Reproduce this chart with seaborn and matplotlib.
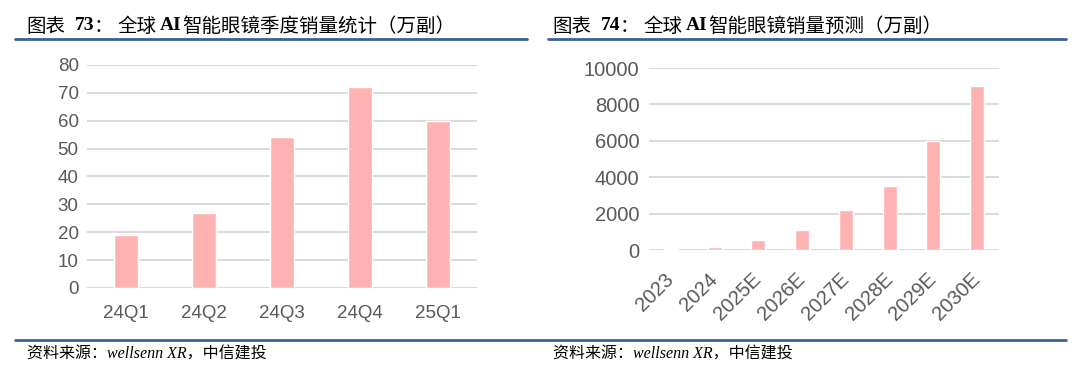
import matplotlib
matplotlib.use("Agg")
import matplotlib.pyplot as plt
import seaborn as sns
from matplotlib.lines import Line2D

# ---- data ----
quarters = ["24Q1", "24Q2", "24Q3", "24Q4", "25Q1"]
quarter_sales = [19, 27, 54, 72, 60]
years = ["2023", "2024", "2025E", "2026E", "2027E", "2028E", "2029E", "2030E"]
year_sales = [30, 150, 550, 1100, 2200, 3500, 6000, 9000]
left_yticks = [0, 10, 20, 30, 40, 50, 60, 70, 80]
right_yticks = [0, 2000, 4000, 6000, 8000, 10000]

sns.set_theme(style="white")
plt.rcParams["font.family"] = ["Liberation Sans", "Noto Sans CJK SC"]

BAR = "#FFB2B2"
GRID = "#D9D9D9"
TICK = "#595959"
LINE = "#3A6193"
W, H = 1080, 374

fig = plt.figure(figsize=(W / 100, H / 100), dpi=100)


def fx(px):
    return px / W


def fy(py):
    return 1 - py / H


def style_axes(ax, yticks, fs):
    ax.set_ylim(yticks[0], yticks[-1])
    ax.set_yticks(yticks)
    ax.yaxis.grid(True, color=GRID, linewidth=1.4)
    ax.set_axisbelow(True)
    for s in ax.spines.values():
        s.set_visible(False)
    ax.tick_params(axis="both", length=0, colors=TICK, labelsize=fs)
    ax.set_xlabel("")
    ax.set_ylabel("")


# left chart
ax1 = fig.add_axes([fx(87), fy(288), fx(477 - 87), (288 - 65) / H])
sns.barplot(x=quarters, y=quarter_sales, color=BAR, saturation=1, width=0.31, ax=ax1)
ax1.set_xlim(-0.5, len(quarters) - 0.5)
style_axes(ax1, left_yticks, 13.5)
ax1.tick_params(axis="y", pad=6)
ax1.tick_params(axis="x", pad=12)

# right chart
ax2 = fig.add_axes([fx(649), fy(250), fx(999 - 649), (250 - 68) / H])
sns.barplot(x=years, y=year_sales, color=BAR, saturation=1, width=0.32, ax=ax2)
ax2.set_xlim(-0.5, len(years) - 0.5)
style_axes(ax2, right_yticks, 14.5)
ax2.tick_params(axis="y", pad=7)
ax2.tick_params(axis="x", pad=19)
for lab in ax2.get_xticklabels():
    lab.set_rotation(45)
    lab.set_ha("right")
    lab.set_va("center")
    lab.set_rotation_mode("anchor")

# header lines
fig.add_artist(Line2D([fx(15), fx(527)], [fy(39), fy(39)], color=LINE, lw=2))
fig.add_artist(Line2D([fx(548), fx(1066)], [fy(39), fy(39)], color=LINE, lw=2))
# footer line
fig.add_artist(Line2D([fx(15), fx(1066)], [fy(340), fy(340)], color=LINE, lw=2))

CJK = ["Noto Sans CJK SC"]
SER = ["Liberation Serif", "Noto Sans CJK SC"]
TY = fy(26)
FS = 14


def title(x0, pieces):
    for dx, txt, fam, wt in pieces:
        fig.text(fx(x0 + dx), TY, txt, family=fam, fontweight=wt, fontsize=FS,
                 ha="left", va="center", color="black")


def pieces(num, rest):
    return [
        (0, "图表", CJK, "normal"),
        (49, num, SER, "bold"),
        (68, "：", CJK, "normal"),
        (91, "全球", CJK, "normal"),
        (134, "AI", SER, "bold"),
        (156, rest, CJK, "normal"),
    ]


title(26, pieces("73", "智能眼镜季度销量统计（万副）"))
title(552, pieces("74", "智能眼镜销量预测（万副）"))

for x in (27, 553):
    fig.text(fx(x), fy(355), "资料来源：wellsenn XR，中信建投", family=SER,
             style="italic", fontsize=11.5, ha="left", va="center", color="black")

fig.savefig("out.png", dpi=100, facecolor="white")
